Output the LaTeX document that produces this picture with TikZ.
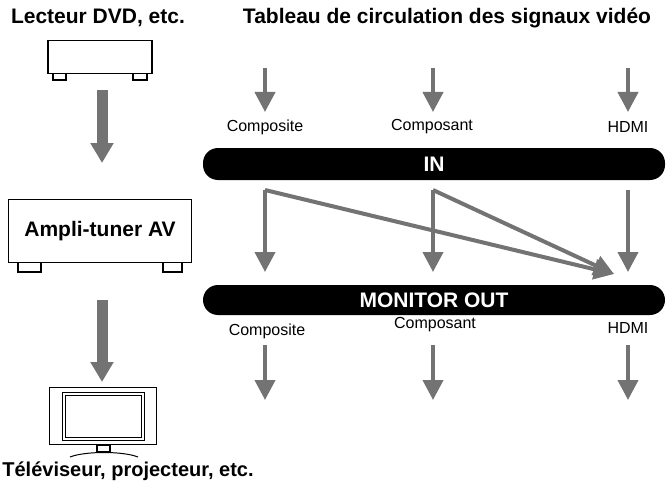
\documentclass[tikz,border=0pt]{standalone}
\usepackage{fontspec}
\setmainfont{Liberation Sans}
\usetikzlibrary{arrows.meta}
\begin{document}
\begin{tikzpicture}[
    x=1pt, y=-1pt,
    every node/.style={align=center},
    title/.style={font=\fontsize{21}{24}\selectfont\bfseries},
    port/.style={font=\fontsize{16}{18}\selectfont},
    bar/.style={fill=black, rounded corners=15pt, text=white, font=\fontsize{21}{24}\selectfont\bfseries, minimum width=462pt, inner sep=0pt},
    device/.style={draw, line width=1.4pt, fill=white},
    flow/.style={draw=gray!90!black, line width=4pt, -{Triangle[width=20pt,length=20pt]}},
    bigflow/.style={draw=gray!90!black, line width=11pt, -{Triangle[width=22pt,length=20pt]}}
]
    \useasboundingbox (0,0) rectangle (670,487);

    % Titles
    \node[title] (dvdlabel) at (98,18) {Lecteur DVD, etc.};
    \node[title] (tablelabel) at (447,18) {Tableau de circulation des signaux vidéo};
    \node[title, font=\fontsize{20}{24}\selectfont\bfseries] (tvlabel) at (128,471) {Téléviseur, projecteur, etc.};

    % DVD player
    \draw[device] (53,73) rectangle (66,80);
    \draw[device] (133,73) rectangle (147,80);
    \node[device, minimum width=104pt, minimum height=33pt] (dvd) at (100,57) {};

    % AV receiver
    \draw[device] (18,262) rectangle (41,272);
    \draw[device] (163,262) rectangle (182,272);
    \node[device, minimum width=183pt, minimum height=63pt, font=\fontsize{21}{24}\selectfont\bfseries] (amp) at (100,231) {Ampli-tuner AV};

    % TV
    \draw[line width=1pt] (70,457) .. controls (85,451) and (123,451) .. (138,457);
    \draw[device] (97,445) rectangle (110,452);
    \node[device, minimum width=107pt, minimum height=57pt] (tv) at (103,416) {};
    \draw[line width=1pt] (62,392) rectangle (144,440);
    \draw[line width=0.8pt] (65,395) rectangle (141,437);

    % Device arrows
    \coordinate (dvdout) at (102,90);
    \coordinate (ampin) at (102,163);
    \coordinate (ampout) at (102,300);
    \coordinate (tvin) at (102,382);
    \draw[bigflow] (dvdout) -- (ampin);
    \draw[bigflow] (ampout) -- (tvin);

    % Bars
    \node[bar, minimum height=32pt] (in) at (434,164) {IN};
    \node[bar, minimum height=30pt] (out) at (434,300) {MONITOR OUT};

    % Input labels
    \node[port] (compin) at (265,127) {Composite};
    \node[port] (cpntin) at (432,127) {Composant};
    \node[port] (hdmiin) at (628,127) {HDMI};

    % Output labels
    \node[port] (compout) at (267,331) {Composite};
    \node[port] (cpntout) at (435,325) {Composant};
    \node[port] (hdmiout) at (628,328) {HDMI};

    % Signal arrows
    \foreach \name/\x in {comp/265, cpnt/433, hdmi/628} {
        \coordinate (\name top) at (\x,68);
        \coordinate (\name tin) at (\x,112);
        \coordinate (\name mid) at (\x,190);
        \coordinate (\name mout) at (\x,272);
        \coordinate (\name low) at (\x,345);
        \coordinate (\name end) at (\x,400);
        \draw[flow] (\name top) -- (\name tin);
        \draw[flow] (\name mid) -- (\name mout);
        \draw[flow] (\name low) -- (\name end);
    }
    \coordinate (conv) at (614,274);
    \draw[flow] (compmid) -- (conv);
    \draw[flow] (cpntmid) -- (conv);
\end{tikzpicture}
\end{document}
